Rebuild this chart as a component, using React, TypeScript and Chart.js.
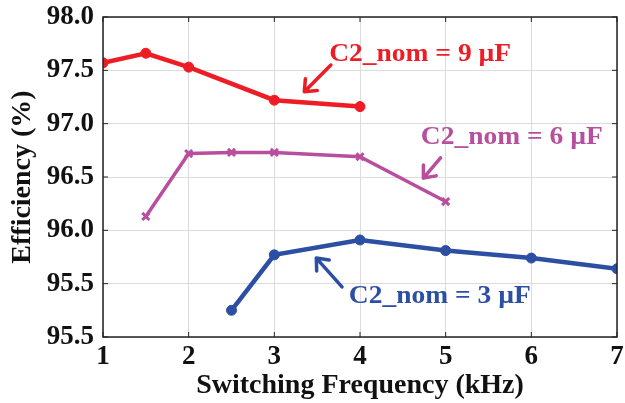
import React, { useEffect, useRef } from "react";
import { Chart, registerables } from "chart.js";

Chart.register(...registerables);

const xTicks = [1, 2, 3, 4, 5, 6, 7];
const yTickLabels = ["95.5", "95.5", "96.0", "96.5", "97.0", "97.5", "98.0"];
const yTickValues = [95.0, 95.5, 96.0, 96.5, 97.0, 97.5, 98.0];

const freq9 = [1, 1.5, 2, 3, 4];
const eff9 = [97.57, 97.66, 97.53, 97.22, 97.16];

const freq6 = [1.5, 2, 2.5, 3, 4, 5];
const eff6 = [96.13, 96.72, 96.73, 96.73, 96.69, 96.27];

const freq3 = [2.5, 3, 4, 5, 6, 7];
const eff3 = [95.25, 95.77, 95.91, 95.81, 95.74, 95.64];

const labels = ["C2_nom = 9 \u00b5F", "C2_nom = 6 \u00b5F", "C2_nom = 3 \u00b5F"];

const RED = "#ee1c25";
const MAG = "#b84e9e";
const BLUE = "#2c4fa3";

// annotation placement (data coordinates)
const notes = [
  { text: labels[0], color: RED, tx: 3.64, ty: 97.65, tail: [3.66, 97.55], tip: [3.35, 97.3] },
  { text: labels[1], color: MAG, tx: 4.71, ty: 96.87, tail: [4.94, 96.68], tip: [4.74, 96.49] },
  { text: labels[2], color: BLUE, tx: 3.87, ty: 95.38, tail: [3.79, 95.47], tip: [3.49, 95.74] },
];

const annotPlugin = {
  id: "annot",
  afterDatasetsDraw(chart: any) {
    const { ctx, scales, chartArea } = chart;
    const xs = scales.x;
    const ys = scales.y;
    ctx.save();
    ctx.strokeStyle = "#222";
    ctx.lineWidth = 1.5;
    ctx.strokeRect(chartArea.left, chartArea.top, chartArea.right - chartArea.left, chartArea.bottom - chartArea.top);
    ctx.lineWidth = 1;
    for (const v of yTickValues) {
      const y = ys.getPixelForValue(v);
      ctx.beginPath();
      ctx.moveTo(chartArea.left, y);
      ctx.lineTo(chartArea.left + 5, y);
      ctx.moveTo(chartArea.right, y);
      ctx.lineTo(chartArea.right - 5, y);
      ctx.stroke();
    }
    for (const v of xTicks) {
      const x = xs.getPixelForValue(v);
      ctx.beginPath();
      ctx.moveTo(x, chartArea.bottom);
      ctx.lineTo(x, chartArea.bottom - 5);
      ctx.moveTo(x, chartArea.top);
      ctx.lineTo(x, chartArea.top + 5);
      ctx.stroke();
    }
    for (const n of notes) {
      ctx.fillStyle = n.color;
      ctx.strokeStyle = n.color;
      ctx.font = "bold 25px 'Liberation Serif', 'DejaVu Serif', serif";
      ctx.textAlign = "left";
      ctx.textBaseline = "middle";
      const px = xs.getPixelForValue(n.tx);
      const py = ys.getPixelForValue(n.ty);
      ctx.save();
      ctx.translate(px, py);
      ctx.scale(1.1, 1);
      ctx.fillText(n.text, 0, 0);
      ctx.restore();
      const x1 = xs.getPixelForValue(n.tail[0]);
      const y1 = ys.getPixelForValue(n.tail[1]);
      const x2 = xs.getPixelForValue(n.tip[0]);
      const y2 = ys.getPixelForValue(n.tip[1]);
      ctx.lineWidth = 3.5;
      ctx.lineCap = "round";
      ctx.beginPath();
      ctx.moveTo(x1, y1);
      ctx.lineTo(x2, y2);
      const ang = Math.atan2(y2 - y1, x2 - x1);
      const hl = 13;
      const spread = 0.7;
      ctx.moveTo(x2, y2);
      ctx.lineTo(x2 - hl * Math.cos(ang - spread), y2 - hl * Math.sin(ang - spread));
      ctx.moveTo(x2, y2);
      ctx.lineTo(x2 - hl * Math.cos(ang + spread), y2 - hl * Math.sin(ang + spread));
      ctx.stroke();
    }
    ctx.restore();
  },
};

export default function App() {
  const ref = useRef<HTMLCanvasElement>(null);
  useEffect(() => {
    if (!ref.current) return;
    const mk = (xs: number[], ys: number[]) => xs.map((x, i) => ({ x, y: ys[i] }));
    const tickFont = { family: "'Liberation Serif', 'DejaVu Serif', serif", weight: "bold" as const, size: 27 };
    const titleFont = { family: "'Liberation Serif', 'DejaVu Serif', serif", weight: "bold" as const, size: 28 };
    const chart = new Chart(ref.current, {
      type: "line",
      data: {
        datasets: [
          {
            label: labels[0],
            data: mk(freq9, eff9),
            borderColor: RED,
            backgroundColor: RED,
            borderWidth: 4.5,
            pointStyle: "circle",
            pointRadius: 5,
            pointBorderWidth: 1,
          },
          {
            label: labels[1],
            data: mk(freq6, eff6),
            borderColor: MAG,
            backgroundColor: MAG,
            borderWidth: 3.5,
            pointStyle: "crossRot",
            pointRadius: 5,
            pointBorderWidth: 3,
          },
          {
            label: labels[2],
            data: mk(freq3, eff3),
            borderColor: BLUE,
            backgroundColor: BLUE,
            borderWidth: 4.5,
            pointStyle: "circle",
            pointRadius: 5,
            pointBorderWidth: 1,
          },
        ],
      },
      options: {
        animation: false,
        responsive: true,
        maintainAspectRatio: false,
        layout: { padding: { top: 17, right: 6, left: 0, bottom: 0 } },
        plugins: { legend: { display: false }, tooltip: { enabled: false } },
        scales: {
          x: {
            type: "linear",
            min: 1,
            max: 7,
            afterBuildTicks: (s: any) => {
              s.ticks = xTicks.map((v) => ({ value: v }));
            },
            afterFit: (s: any) => {
              s.height = 66;
              s.paddingLeft = 0;
              s.paddingRight = 0;
            },
            ticks: { color: "#111", font: tickFont, padding: 4, maxRotation: 0, callback: (v: any) => String(v) },
            grid: { color: "#dcdcdc", lineWidth: 1, drawTicks: false },
            border: { display: false },
            title: { display: true, text: "Switching Frequency (kHz)", color: "#111", font: titleFont, padding: { top: 0, bottom: 0 } },
          },
          y: {
            type: "linear",
            min: 95,
            max: 98,
            afterBuildTicks: (s: any) => {
              s.ticks = yTickValues.map((v) => ({ value: v }));
            },
            afterFit: (s: any) => {
              s.width = 103;
              s.paddingTop = 0;
              s.paddingBottom = 0;
            },
            ticks: {
              color: "#111",
              font: tickFont,
              padding: 9,
              callback: (v: any) => {
                const i = yTickValues.findIndex((t) => Math.abs(t - v) < 1e-6);
                return i >= 0 ? yTickLabels[i] : "";
              },
            },
            grid: { color: "#dcdcdc", lineWidth: 1, drawTicks: false },
            border: { display: false },
            title: { display: true, text: "Efficiency (%)", color: "#111", font: titleFont, padding: { top: 6, bottom: 0 } },
          },
        },
      },
      plugins: [annotPlugin],
    });
    return () => chart.destroy();
  }, []);
  return (
    <div style={{ position: "fixed", left: 0, top: 0, width: 625, height: 403, background: "#fff" }}>
      <canvas ref={ref} />
    </div>
  );
}
